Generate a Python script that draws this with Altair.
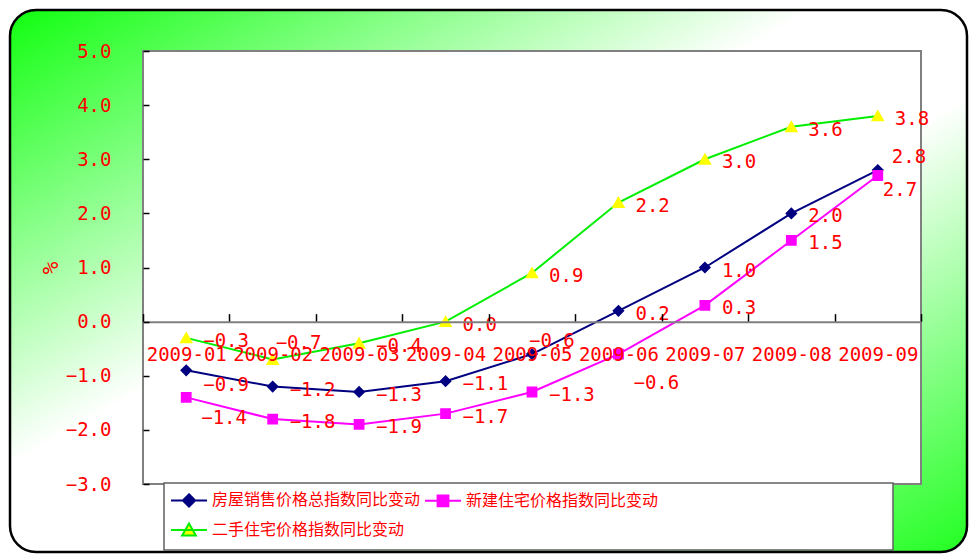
import altair as alt
import pandas as pd

# ---- data ----
months = ["2009-01", "2009-02", "2009-03", "2009-04", "2009-05",
          "2009-06", "2009-07", "2009-08", "2009-09"]
series_names = ["房屋销售价格总指数同比变动", "新建住宅价格指数同比变动", "二手住宅价格指数同比变动"]
total_index = [-0.9, -1.2, -1.3, -1.1, -0.6, 0.2, 1.0, 2.0, 2.8]
new_home_index = [-1.4, -1.8, -1.9, -1.7, -1.3, -0.6, 0.3, 1.5, 2.7]
second_hand_index = [-0.3, -0.7, -0.4, 0.0, 0.9, 2.2, 3.0, 3.6, 3.8]
y_ticks = [-3, -2, -1, 0, 1, 2, 3, 4, 5]

# ---- styles ----
line_colors = ["#000080", "#ff00ff", "#00ee00"]
marker_fills = ["#000080", "#ff00ff", "#ffff00"]
marker_paths = [
    "M-1,0H1M0,-0.34L0.34,0L0,0.34L-0.34,0Z",
    "M-1,0H1M-0.3,-0.3H0.3V0.3H-0.3Z",
    "M-1,0H1M0,-0.36L0.38,0.3H-0.38Z",
]
RED = "#ff0000"
NUM_FONT = "DejaVu Sans Mono"
CJK_FONT = "Noto Sans CJK SC"
W, H = 778, 433
ZERO_Y = H * 5 / 8

# data-label nudges (label placement styling, as in the reference)
DEFAULT_NUDGE = (17, 3)
label_nudges = {
    (series_names[0], "2009-01"): (17, 15),
    (series_names[0], "2009-05"): (-3, -13),
    (series_names[0], "2009-09"): (14, -13),
    (series_names[1], "2009-01"): (15, 21),
    (series_names[1], "2009-06"): (15, 29),
    (series_names[1], "2009-09"): (5, 15),
    (series_names[2], "2009-02"): (3, -17),
}

rows = []
for name, vals in zip(series_names, [total_index, new_home_index, second_hand_index]):
    for m, v in zip(months, vals):
        rows.append({"month": m, "series": name, "value": v})
df = pd.DataFrame(rows)

x_enc = alt.X(
    "month:N",
    sort=months,
    bandPosition=0.5,
    scale=alt.Scale(type="band", domain=months, paddingInner=0, paddingOuter=0),
    axis=alt.Axis(
        orient="top", offset=-ZERO_Y, title=None, labelAngle=0,
        tickBand="extent", tickSize=8, tickColor="#000000", tickWidth=1.5,
        domainColor="#7f7f7f", domainWidth=2, grid=False,
        labelColor=RED, labelFont=NUM_FONT, labelFontSize=19,
        labelPadding=-47, labelBaseline="alphabetic", zindex=1,
    ),
)
y_enc = alt.Y(
    "value:Q",
    scale=alt.Scale(domain=[-3, 5], nice=False, zero=False),
    axis=alt.Axis(
        values=y_ticks, format=".1f", offset=-6, tickSize=6, domain=False,
        grid=False, tickColor="#000000", tickWidth=1.5, labelPadding=32,
        labelColor=RED, labelFont=NUM_FONT, labelFontSize=19,
        title="%", titleColor=RED, titleFont=NUM_FONT, titleFontSize=21,
        titleFontWeight="normal", titleX=-98, titleY=H / 2, titleAngle=-90,
        titleBaseline="middle", titleAlign="center",
        zindex=1,
    ),
)

legend = alt.Legend(
    orient="none", legendX=27, legendY=430, columns=2, direction="horizontal",
    title=None, labelFont=CJK_FONT, labelFontSize=16, labelColor=RED,
    labelLimit=0, symbolSize=1296, symbolStrokeWidth=2, labelOffset=4,
    columnPadding=0, rowPadding=0, padding=0, zindex=2,
)

one = alt.Data(values=[{}])

gradient = {
    "gradient": "linear", "x1": 0, "y1": 0, "x2": 1, "y2": 1,
    "stops": [
        {"offset": 0, "color": "#10ff10"},
        {"offset": 0.42, "color": "#ffffff"},
        {"offset": 0.58, "color": "#ffffff"},
        {"offset": 1, "color": "#22ff22"},
    ],
}

bg = alt.Chart(one).mark_rect(
    fill=gradient, stroke="#000000", strokeWidth=2.5, cornerRadius=26
).encode(x=alt.value(-133), x2=alt.value(824), y=alt.value(-41), y2=alt.value(501))

plot_bg = alt.Chart(one).mark_rect(
    fill="#ffffff", stroke="#808080", strokeWidth=2
).encode(x=alt.value(0), x2=alt.value(W), y=alt.value(0), y2=alt.value(H))

legend_box = alt.Chart(one).mark_rect(
    fill="#ffffff", stroke="#606060", strokeWidth=1.5
).encode(x=alt.value(21), x2=alt.value(750), y=alt.value(432), y2=alt.value(499))

base = alt.Chart(df).encode(x=x_enc, y=y_enc)

lines = base.mark_line(strokeWidth=2).encode(
    color=alt.Color("series:N", sort=series_names,
                    scale=alt.Scale(domain=series_names, range=line_colors),
                    legend=legend)
)
points = base.mark_point(filled=True, size=1296, opacity=1).encode(
    fill=alt.Fill("series:N", sort=series_names,
                  scale=alt.Scale(domain=series_names, range=marker_fills),
                  legend=legend),
    shape=alt.Shape("series:N", sort=series_names,
                    scale=alt.Scale(domain=series_names, range=marker_paths),
                    legend=legend),
)


def label_layer(filter_expr, dx, dy):
    return base.transform_filter(filter_expr).mark_text(
        align="left", baseline="middle", dx=dx, dy=dy,
        font=NUM_FONT, fontSize=19, color=RED,
    ).encode(text=alt.Text("value:Q", format=".1f"))


special = " || ".join(
    f"(datum.series === '{s}' && datum.month === '{m}')" for (s, m) in label_nudges
)
label_layers = [label_layer(f"!({special})", *DEFAULT_NUDGE)]
for (s, m), (dx, dy) in label_nudges.items():
    label_layers.append(
        label_layer(f"datum.series === '{s}' && datum.month === '{m}'", dx, dy)
    )

chart = alt.layer(bg, plot_bg, legend_box, lines, points, *label_layers).properties(
    width=W, height=H,
    autosize=alt.AutoSizeParams(type="none"),
    padding={"left": 143, "top": 51, "right": 48, "bottom": 70},
    background="#ffffff",
).configure_view(stroke=None)

chart.save("out.html", embed_options={"renderer": "svg", "actions": False})
